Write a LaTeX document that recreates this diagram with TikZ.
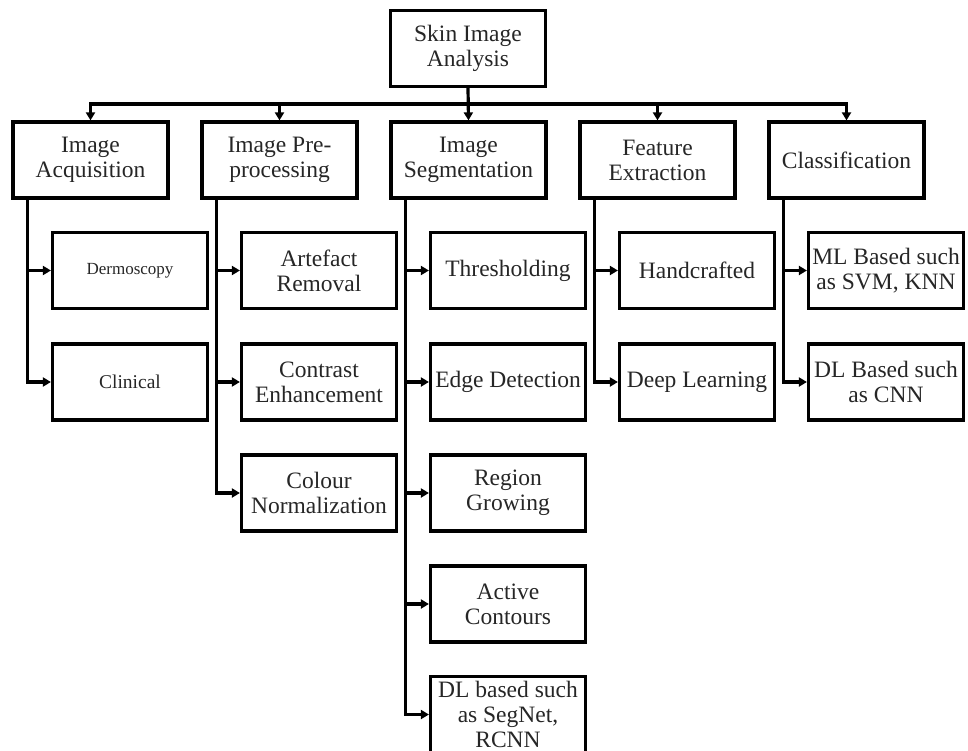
\documentclass[tikz,border=0pt]{standalone}
\usepackage{fontspec}
\setmainfont{Liberation Serif}
\usetikzlibrary{arrows.meta}
\begin{document}
\begin{tikzpicture}[x=1pt,y=-1pt,
  box/.style={draw=black,line width=3.2pt,minimum width=155pt,minimum height=76pt,
    align=center,inner sep=1pt,font=\fontsize{23.5}{25}\selectfont,text=black!85},
  conn/.style={draw=black,line width=3.2pt},
  arr/.style={conn,-{Triangle[length=8pt,width=9pt]}}]
\useasboundingbox (0,0) rectangle (968,751);
% root
\node[box] (root) at (468,48.5) {Skin Image\\Analysis};
% level 1
\node[box] (acq) at (90.5,160) {Image\\Acquisition};
\node[box] (pre) at (279.5,160) {Image Pre-\\processing};
\node[box] (seg) at (468.5,160) {Image\\Segmentation};
\node[box] (fea) at (657.5,160) {Feature\\Extraction};
\node[box] (cls) at (846.5,160) {Classification};
% children
\node[box,font=\fontsize{17}{19}\selectfont] (derm) at (130,270.5) {Dermoscopy};
\node[box,font=\fontsize{19.5}{21}\selectfont] (clin) at (130,382) {Clinical};
\node[box] (art) at (319,270.5) {Artefact\\Removal};
\node[box] (con) at (319,382) {Contrast\\Enhancement};
\node[box] (col) at (319,493) {Colour\\Normalization};
\node[box] (thr) at (508,270.5) {Thresholding};
\node[box] (edg) at (508,382) {Edge Detection};
\node[box] (reg) at (508,493) {Region\\Growing};
\node[box] (act) at (508,604) {Active\\Contours};
\node[box,font=\fontsize{23.5}{25}\selectfont] (dls) at (508,714.5) {DL based such\\as SegNet,\\RCNN};
\node[box] (hand) at (697,270.5) {Handcrafted};
\node[box] (deep) at (697,382) {Deep Learning};
\node[box] (ml) at (886,270.5) {ML Based such\\as SVM, KNN};
\node[box] (dl) at (886,382) {DL Based such\\as CNN};
% bus
\coordinate (bus) at (0,104);
\draw[arr] (root.south) -- (seg.north);
\draw[conn,line cap=rect] (acq.north |- bus) -- (cls.north |- bus);
\foreach \n in {acq,pre,fea,cls}{\draw[arr] (\n.north |- bus) -- (\n.north);}
% spines
\foreach \p/\c in {acq/derm,acq/clin,pre/art,pre/con,pre/col,seg/thr,seg/edg,seg/reg,seg/act,seg/dls,fea/hand,fea/deep,cls/ml,cls/dl}{
  \draw[arr] ([xshift=16pt]\p.south west) |- (\c.west);}
\end{tikzpicture}
\end{document}
